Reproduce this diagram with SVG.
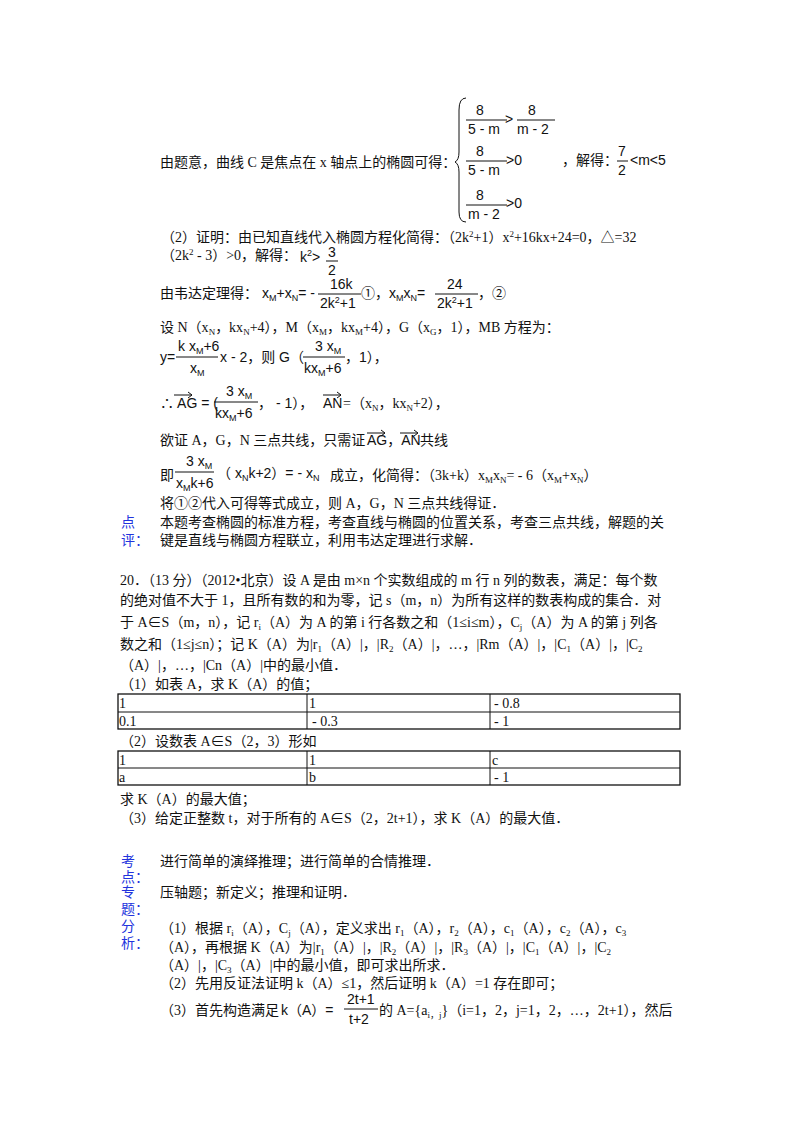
<svg xmlns="http://www.w3.org/2000/svg" width="800" height="1132" viewBox="0 0 800 1132">
<style>
text{font-family:"Liberation Serif","Noto Sans CJK SC",serif;font-size:14px;fill:#111}
.s{font-size:9px}
.b{fill:#2233dd}
.f{font-family:"Liberation Sans","Noto Sans CJK SC",sans-serif;font-size:14px}
line,path{stroke:#111;fill:none}
.t{stroke:#111;stroke-width:1.3;fill:none}
</style>
<rect width="800" height="1132" fill="#fff"/>
<g id="part1">
<text x="160" y="167">由题意，曲线 C 是焦点在 x 轴点上的椭圆可得：</text>
<path d="M466,98 Q459,98 459,110 L459,152 Q459,160 455,162 Q459,164 459,172 L459,212 Q459,222 466,222"/>
<text class="f" x="476" y="115">8</text><line x1="466" y1="120" x2="507" y2="120"/><text class="f" x="468" y="134">5 - m</text>
<text class="f" x="505" y="124">&gt;</text>
<text class="f" x="528" y="115">8</text><line x1="517" y1="120" x2="555" y2="120"/><text class="f" x="517" y="134">m - 2</text>
<text class="f" x="476" y="156">8</text><line x1="466" y1="161" x2="507" y2="161"/><text class="f" x="468" y="175">5 - m</text>
<text class="f" x="506" y="165">&gt;0</text>
<text x="562" y="165">，解得：</text>
<text class="f" x="618" y="156">7</text><line x1="617" y1="161" x2="628" y2="161"/><text class="f" x="618" y="175">2</text>
<text class="f" x="630" y="165">&lt;m&lt;5</text>
<text class="f" x="476" y="200">8</text><line x1="466" y1="205" x2="507" y2="205"/><text class="f" x="468" y="219">m - 2</text>
<text class="f" x="506" y="208">&gt;0</text>
<text x="161" y="242">（2）证明：由已知直线代入椭圆方程化简得：（2k<tspan class="s" dy="-5">2</tspan><tspan dy="5">+1）x</tspan><tspan class="s" dy="-5">2</tspan><tspan dy="5">+16kx+24=0，△=32</tspan></text>
<text x="161" y="260">（2k<tspan class="s" dy="-5">2</tspan><tspan dy="5"> - 3）&gt;0，解得：</tspan></text>
<text class="f" x="300" y="262">k<tspan class="s" dy="-6">2</tspan><tspan dy="6">&gt;</tspan></text>
<text class="f" x="328" y="257">3</text><line x1="326" y1="261" x2="338" y2="261"/><text class="f" x="328" y="275">2</text>
<text x="160" y="298">由韦达定理得：</text>
<text class="f" x="262" y="298">x<tspan class="s" dy="3">M</tspan><tspan dy="-3">+x</tspan><tspan class="s" dy="3">N</tspan><tspan dy="-3">= -</tspan></text>
<text class="f" x="330" y="289">16k</text><line x1="318" y1="294" x2="361" y2="294"/><text class="f" x="320" y="308">2k<tspan class="s" dy="-5">2</tspan><tspan dy="5">+1</tspan></text>
<text x="361" y="298">①，</text>
<text class="f" x="389" y="298">x<tspan class="s" dy="3">M</tspan><tspan dy="-3">x</tspan><tspan class="s" dy="3">N</tspan><tspan dy="-3">=</tspan></text>
<text class="f" x="447" y="289">24</text><line x1="435" y1="294" x2="478" y2="294"/><text class="f" x="437" y="308">2k<tspan class="s" dy="-5">2</tspan><tspan dy="5">+1</tspan></text>
<text x="478" y="298">，②</text>
<text x="160" y="332">设 N（x<tspan class="s" dy="3">N</tspan><tspan dy="-3">，kx</tspan><tspan class="s" dy="3">N</tspan><tspan dy="-3">+4），M（x</tspan><tspan class="s" dy="3">M</tspan><tspan dy="-3">，kx</tspan><tspan class="s" dy="3">M</tspan><tspan dy="-3">+4），G（x</tspan><tspan class="s" dy="3">G</tspan><tspan dy="-3">，1），MB 方程为：</tspan></text>
<text class="f" x="178" y="351">k x<tspan class="s" dy="3">M</tspan><tspan dy="-3">+6</tspan></text><line x1="176" y1="357" x2="218" y2="357"/><text class="f" x="190" y="373">x<tspan class="s" dy="3">M</tspan></text>
<text class="f" x="160" y="362">y=</text>
<text class="f" x="220" y="362">x - 2，则 G（</text>
<text class="f" x="315" y="351">3 x<tspan class="s" dy="3">M</tspan></text><line x1="303" y1="357" x2="345" y2="357"/><text class="f" x="304" y="373">kx<tspan class="s" dy="3">M</tspan><tspan dy="-3">+6</tspan></text>
<text class="f" x="345" y="362">，1），</text>
<text class="f" x="160" y="408">∴ AG = (</text>
<path d="M174,395 L192,395 M188,392 L192,395 L188,398"/>
<text class="f" x="226" y="396">3 x<tspan class="s" dy="3">M</tspan></text><line x1="214" y1="402" x2="258" y2="402"/><text class="f" x="215" y="418">kx<tspan class="s" dy="3">M</tspan><tspan dy="-3">+6</tspan></text>
<text class="f" x="258" y="408">，  - 1），</text>
<path d="M323,395 L341,395 M337,392 L341,395 L337,398"/>
<text class="f" x="323" y="408">AN</text>
<text x="343" y="408">=（x<tspan class="s" dy="3">N</tspan><tspan dy="-3">，kx</tspan><tspan class="s" dy="3">N</tspan><tspan dy="-3">+2），</tspan></text>
<text x="160" y="445">欲证 A，G，N 三点共线，只需证</text>
<path d="M367,433 L385,433 M381,430 L385,433 L381,436 M400,433 L418,433 M414,430 L418,433 L414,436"/>
<text class="f" x="367" y="445">AG，AN</text><text x="420" y="445">共线</text>
<text x="160" y="480">即</text>
<text class="f" x="186" y="466">3 x<tspan class="s" dy="3">M</tspan></text><line x1="175" y1="472" x2="214" y2="472"/><text class="f" x="176" y="488">x<tspan class="s" dy="3">M</tspan><tspan dy="-3">k+6</tspan></text>
<text class="f" x="217" y="478">（ x<tspan class="s" dy="3">N</tspan><tspan dy="-3">k+2）= -  x</tspan><tspan class="s" dy="3">N</tspan></text>
<text x="330" y="480">成立，化简得：（3k+k）x<tspan class="s" dy="3">M</tspan><tspan dy="-3">x</tspan><tspan class="s" dy="3">N</tspan><tspan dy="-3">= - 6（x</tspan><tspan class="s" dy="3">M</tspan><tspan dy="-3">+x</tspan><tspan class="s" dy="3">N</tspan><tspan dy="-3">）</tspan></text>
<text x="160" y="508">将①②代入可得等式成立，则 A，G，N 三点共线得证．</text>
<text class="b" x="121" y="527">点</text><text class="b" x="121" y="545">评：</text>
<text x="160" y="527">本题考查椭圆的标准方程，考查直线与椭圆的位置关系，考查三点共线，解题的关</text>
<text x="160" y="545">键是直线与椭圆方程联立，利用韦达定理进行求解．</text>
</g>
<g id="part2">
<text x="120" y="585">20．（13 分）（2012•北京）设 A 是由 m×n 个实数组成的 m 行 n 列的数表，满足：每个数</text>
<text x="120" y="605">的绝对值不大于 1，且所有数的和为零，记 s（m，n）为所有这样的数表构成的集合．对</text>
<text x="120" y="627">于 A∈S（m，n），记 r<tspan class="s" dy="3">i</tspan><tspan dy="-3">（A）为 A 的第 i 行各数之和（1≤i≤m），C</tspan><tspan class="s" dy="3">j</tspan><tspan dy="-3">（A）为 A 的第 j 列各</tspan></text>
<text x="120" y="649">数之和（1≤j≤n）；记 K（A）为|r<tspan class="s" dy="3">1</tspan><tspan dy="-3">（A）|，|R</tspan><tspan class="s" dy="3">2</tspan><tspan dy="-3">（A）|，…，|Rm（A）|，|C</tspan><tspan class="s" dy="3">1</tspan><tspan dy="-3">（A）|，|C</tspan><tspan class="s" dy="3">2</tspan></text>
<text x="120" y="670">（A）|，…，|Cn（A）|中的最小值．</text>
<text x="120" y="689">（1）如表 A，求 K（A）的值；</text>
<rect class="t" x="118" y="694" width="562" height="35"/>
<line x1="118" y1="712" x2="680" y2="712"/><line x1="307" y1="694" x2="307" y2="729"/><line x1="490" y1="694" x2="490" y2="729"/>
<text x="119" y="708">1</text><text x="309" y="708">1</text><text x="494" y="708">- 0.8</text>
<text x="119" y="726">0.1</text><text x="312" y="726">- 0.3</text><text x="494" y="726">- 1</text>
<text x="120" y="746">（2）设数表 A∈S（2，3）形如</text>
<rect class="t" x="118" y="751" width="562" height="34"/>
<line x1="118" y1="768" x2="680" y2="768"/><line x1="307" y1="751" x2="307" y2="785"/><line x1="490" y1="751" x2="490" y2="785"/>
<text x="119" y="765">1</text><text x="309" y="765">1</text><text x="492" y="765">c</text>
<text x="119" y="782">a</text><text x="309" y="782">b</text><text x="494" y="782">- 1</text>
<text x="120" y="804">求 K（A）的最大值；</text>
<text x="120" y="823">（3）给定正整数 t，对于所有的 A∈S（2，2t+1），求 K（A）的最大值．</text>
</g>
<g id="part3">
<text class="b" x="121" y="866">考</text><text class="b" x="121" y="882">点：</text>
<text x="160" y="866">进行简单的演绎推理；进行简单的合情推理．</text>
<text class="b" x="121" y="897">专</text><text class="b" x="121" y="914">题：</text>
<text x="160" y="897">压轴题；新定义；推理和证明．</text>
<text class="b" x="121" y="931">分</text><text class="b" x="121" y="948">析：</text>
<text x="160" y="933">（1）根据 r<tspan class="s" dy="3">i</tspan><tspan dy="-3">（A），C</tspan><tspan class="s" dy="3">j</tspan><tspan dy="-3">（A），定义求出 r</tspan><tspan class="s" dy="3">1</tspan><tspan dy="-3">（A），r</tspan><tspan class="s" dy="3">2</tspan><tspan dy="-3">（A），c</tspan><tspan class="s" dy="3">1</tspan><tspan dy="-3">（A），c</tspan><tspan class="s" dy="3">2</tspan><tspan dy="-3">（A），c</tspan><tspan class="s" dy="3">3</tspan></text>
<text x="160" y="952">（A），再根据 K（A）为|r<tspan class="s" dy="3">1</tspan><tspan dy="-3">（A）|，|R</tspan><tspan class="s" dy="3">2</tspan><tspan dy="-3">（A）|，|R</tspan><tspan class="s" dy="3">3</tspan><tspan dy="-3">（A）|，|C</tspan><tspan class="s" dy="3">1</tspan><tspan dy="-3">（A）|，|C</tspan><tspan class="s" dy="3">2</tspan></text>
<text x="160" y="970">（A）|，|C<tspan class="s" dy="3">3</tspan><tspan dy="-3">（A）|中的最小值，即可求出所求．</tspan></text>
<text x="160" y="988">（2）先用反证法证明 k（A）≤1，然后证明 k（A）=1 存在即可；</text>
<text x="160" y="1015">（3）首先构造满足</text>
<text class="f" x="281" y="1015">k（A）=</text>
<text class="f" x="347" y="1004">2t+1</text><line x1="344" y1="1009" x2="378" y2="1009"/><text class="f" x="349" y="1024">t+2</text>
<text x="379" y="1015">的 A={a<tspan class="s" dy="3">i，j</tspan><tspan dy="-3">}（i=1，2，j=1，2，…，2t+1），然后</tspan></text>
</g>
</svg>
